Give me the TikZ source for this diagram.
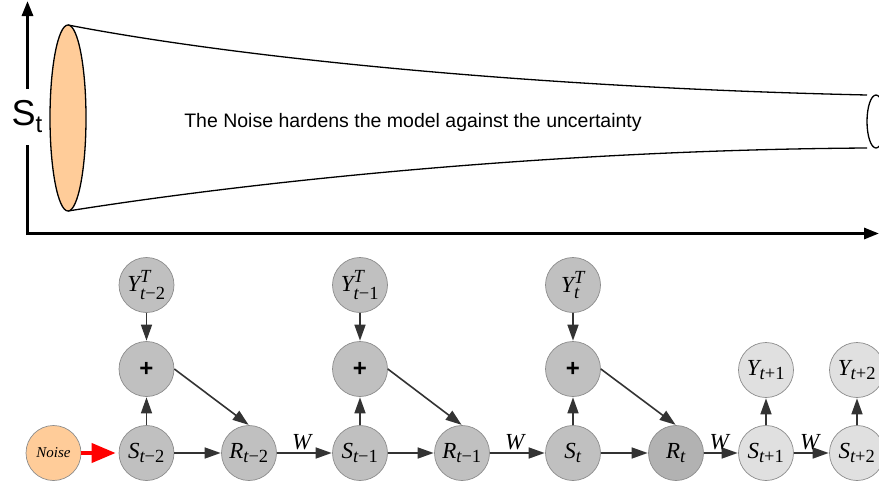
\documentclass[tikz,border=0pt]{standalone}
\usepackage{amsmath}
\usepackage{fontspec}
\newfontfamily\arialf{Liberation Sans}
\newfontfamily\timesf{Liberation Serif}
\DeclareMathSizes{23}{23}{18.5}{14}
\usetikzlibrary{arrows.meta}
\newcommand\mv[1]{\textit{#1}}
\newcommand\mn[1]{\text{#1}}
\definecolor{peach}{HTML}{FFCC99}
\definecolor{nodedark}{HTML}{C0C0C0}
\definecolor{nodedarker}{HTML}{B2B2B2}
\definecolor{nodelight}{HTML}{E0E0E0}
\definecolor{nodeborder}{HTML}{8C8C8C}
\definecolor{edgecol}{HTML}{333333}
\tikzset{
  axis/.style={line width=3pt,-{Triangle[length=15pt,width=11pt]}},
  axisplain/.style={line width=3pt},
  cone/.style={line width=1.3pt},
  gnode/.style={circle,draw=nodeborder,line width=0.7pt,minimum size=55pt,inner sep=0pt,font=\timesf\fontsize{23}{23}\selectfont},
  dark/.style={gnode,fill=nodedark},
  darker/.style={gnode,fill=nodedarker},
  light/.style={gnode,fill=nodelight},
  plusnode/.style={dark,font=\arialf\bfseries\fontsize{24}{24}\selectfont},
  noisenode/.style={gnode,fill=peach,font=\timesf\fontsize{15}{15}\selectfont\itshape},
  edge/.style={draw=edgecol,line width=1.6pt,-{Triangle[length=16pt,width=11pt]},shorten >=0.5pt},
  rededge/.style={draw=red,line width=4pt,-{Triangle[length=24pt,width=19pt]},shorten >=3pt},
  wlabel/.style={above=1pt,pos=0.45,font=\timesf\itshape\fontsize{23}{23}\selectfont,inner sep=1pt},
}
\begin{document}
\begin{tikzpicture}[x=1pt,y=-1pt]
\useasboundingbox (0,0) rectangle (879,483);
% ---------- top part ----------
\draw[cone,fill=white] (68,25) .. controls (250,60) and (550,88) .. (867,95);
\draw[cone] (68,211) .. controls (250,182) and (550,150) .. (867,148);
\draw[cone,fill=white] (876,121.5) ellipse [x radius=9, y radius=26.5];
\draw[cone,fill=peach] (68,118) ellipse [x radius=18, y radius=93];
% axes
\draw[axisplain] (27.5,235) -- (27.5,145);
\draw[axis] (27.5,89) -- (27.5,1);
\draw[axis] (26,233.5) -- (879,233.5);
\node[font=\arialf\fontsize{36}{36}\selectfont,inner sep=0pt] (stlabel) at (27,117)
  {S\raisebox{-7pt}{\fontsize{24}{24}\selectfont t}};
\node[font=\arialf\fontsize{19.5}{19.5}\selectfont,inner sep=0pt] (caption) at (413,122)
  {The Noise hardens the model against the uncertainty};
% ---------- bottom graph ----------
\node[noisenode] (noise) at (53.5,453) {Noise};
\node[dark] (s1) at (146.5,453) {$\mv{S}_{\mv{t}\mn{−2}}$};
\node[dark] (r1) at (249,453) {$\mv{R}_{\mv{t}\mn{−2}}$};
\node[dark] (s2) at (360,453) {$\mv{S}_{\mv{t}\mn{−1}}$};
\node[dark] (r2) at (462,453) {$\mv{R}_{\mv{t}\mn{−1}}$};
\node[dark] (s3) at (573,453) {$\mv{S}_{\mv{t}}$};
\node[darker] (r3) at (676,453) {$\mv{R}_{\mv{t}}$};
\node[light] (s4) at (766,453) {$\mv{S}_{\mv{t}\mn{+1}}$};
\node[light] (s5) at (857,453) {$\mv{S}_{\mv{t}\mn{+2}}$};
\node[plusnode] (p1) at (146.5,369) {+};
\node[plusnode] (p2) at (360,369) {+};
\node[plusnode] (p3) at (573,369) {+};
\node[dark] (y1) at (146.5,285) {$\mv{Y}^{\mv{T}}_{\mv{t}\mn{−2}}$};
\node[dark] (y2) at (360,285) {$\mv{Y}^{\mv{T}}_{\mv{t}\mn{−1}}$};
\node[dark] (y3) at (573,285) {$\mv{Y}^{\mv{T}}_{\mv{t}}$};
\node[light] (y4) at (766,370) {$\mv{Y}_{\mv{t}\mn{+1}}$};
\node[light] (y5) at (857,370) {$\mv{Y}_{\mv{t}\mn{+2}}$};
% edges
\draw[rededge] (noise) -- (s1);
\foreach \i in {1,2,3}{
  \draw[edge] (y\i) -- (p\i);
  \draw[edge] (s\i) -- (p\i);
  \draw[edge] (p\i.east) -- (r\i.north);
  \draw[edge] (s\i) -- (r\i);
}
\draw[edge] (r1) -- node[wlabel] {W} (s2);
\draw[edge] (r2) -- node[wlabel] {W} (s3);
\draw[edge] (r3) -- node[wlabel] {W} (s4);
\draw[edge] (s4) -- node[wlabel] {W} (s5);
\draw[edge] (s4) -- (y4);
\draw[edge] (s5) -- (y5);
\end{tikzpicture}
\end{document}
